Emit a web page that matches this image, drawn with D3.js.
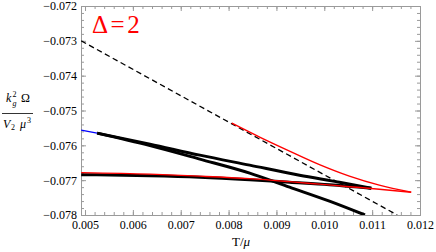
<!DOCTYPE html>
<html><head><meta charset="utf-8">
<script src="https://cdn.jsdelivr.net/npm/d3@7"></script>
</head><body style="margin:0">
<svg id="c" width="436" height="252" font-family="Liberation Serif" style="display:block;background:#fff"></svg>
<script>
// ---- data ----
const xTicks = [0.005,0.006,0.007,0.008,0.009,0.010,0.011,0.012];
const yTicks = [-0.072,-0.073,-0.074,-0.075,-0.076,-0.077,-0.078];
const dashedT = [0.00492, 0.011524];
const dashedW = [-0.0730, -0.0780];
const redUpperT = [0.008066,0.008649,0.009274,0.009899,0.010524,0.011149,0.011816];
const redUpperW = [-0.075362,-0.075764,-0.076167,-0.076555,-0.076885,-0.077144,-0.077345];
const redLowerT = [0.00492,0.006358,0.007399,0.008441,0.009274,0.009899,0.010524,0.011149,0.011816];
const redLowerW = [-0.076784,-0.076828,-0.076885,-0.076957,-0.077043,-0.077115,-0.077187,-0.077259,-0.077345];
const blueT = [0.00492,0.005253];
const blueW = [-0.075563,-0.075649];
const blackAT = [0.00492,0.006358,0.007399,0.008441,0.009274,0.010108,0.010983];
const blackAW = [-0.076842,-0.076871,-0.076914,-0.076986,-0.077057,-0.077129,-0.077230];
const blackBT = [0.005253,0.006358,0.007399,0.008441,0.009483,0.010316,0.010983];
const blackBW = [-0.075649,-0.075966,-0.076282,-0.076569,-0.076856,-0.077057,-0.077230];
const blackCT = [0.005253,0.006358,0.007399,0.008441,0.009274,0.010108,0.010850];
const blackCW = [-0.075649,-0.076009,-0.076397,-0.076799,-0.077201,-0.077603,-0.078000];
const labelParts = ["\u0394","=","2"];

// ---- layout ----
const svg = d3.select("#c");
const L=81, R=420, T=6, B=215;
const x = d3.scaleLinear().domain([0.004916,0.012]).range([L,R]);
const y = d3.scaleLinear().domain([-0.072,-0.078]).range([T,B]);
const frameColor = "#9a9a9a";

svg.append("defs").append("clipPath").attr("id","clip")
  .append("rect").attr("x",L).attr("y",T).attr("width",R-L).attr("height",B-T);

const xMinor = d3.range(0.0050,0.01201,0.0002);
const yMinor = d3.range(-0.0720,-0.07801,-0.0002);

function styleAxis(g){
  g.attr("font-family","Liberation Serif").attr("font-size",12);
  g.select(".domain").attr("stroke",frameColor).attr("stroke-width",1);
  g.selectAll(".tick line").attr("stroke",frameColor);
  g.selectAll(".tick text").attr("fill","#000");
}
// minor ticks
svg.append("g").attr("transform",`translate(0,${B})`).call(d3.axisBottom(x).tickValues(xMinor).tickSize(-3).tickFormat("")).call(styleAxis);
svg.append("g").attr("transform",`translate(0,${T})`).call(d3.axisTop(x).tickValues(xMinor).tickSize(-3).tickFormat("")).call(styleAxis);
svg.append("g").attr("transform",`translate(${L},0)`).call(d3.axisLeft(y).tickValues(yMinor).tickSize(-3).tickFormat("")).call(styleAxis);
svg.append("g").attr("transform",`translate(${R},0)`).call(d3.axisRight(y).tickValues(yMinor).tickSize(-3).tickFormat("")).call(styleAxis);
// major ticks
svg.append("g").attr("transform",`translate(0,${B})`).call(d3.axisBottom(x).tickValues(xTicks).tickSize(-5).tickPadding(5).tickFormat(d3.format(".3f"))).call(styleAxis);
svg.append("g").attr("transform",`translate(0,${T})`).call(d3.axisTop(x).tickValues(xTicks).tickSize(-5).tickFormat("")).call(styleAxis);
svg.append("g").attr("transform",`translate(${L},0)`).call(d3.axisLeft(y).tickValues(yTicks).tickSize(-5).tickPadding(4).tickFormat(d3.format(".3f"))).call(styleAxis);
svg.append("g").attr("transform",`translate(${R},0)`).call(d3.axisRight(y).tickValues(yTicks).tickSize(-5).tickFormat("")).call(styleAxis);

// curves
const plot = svg.append("g").attr("clip-path","url(#clip)");
const line = d3.line().x(d=>x(d[0])).y(d=>y(d[1])).curve(d3.curveMonotoneX);
const zip = (a,b)=>a.map((v,i)=>[v,b[i]]);
function draw(tt,ww,color,width,dash){
  const p = plot.append("path").datum(zip(tt,ww)).attr("d",line)
    .attr("fill","none").attr("stroke",color).attr("stroke-width",width)
    .attr("stroke-linecap","butt").attr("stroke-linejoin","round");
  if(dash) p.attr("stroke-dasharray",dash);
}
draw(dashedT,dashedW,"#000",1.3,"5.5,3.5");
draw(blackAT,blackAW,"#000",3);
draw(blackBT,blackBW,"#000",3);
draw(blackCT,blackCW,"#000",3);
draw(redLowerT,redLowerW,"#ff0000",1.4);
draw(redUpperT,redUpperW,"#ff0000",1.4);
draw(blueT,blueW,"#0000ff",1.4);

// Delta label
const dl = svg.append("text").attr("x",92).attr("y",33).attr("fill","#ff0000").attr("font-size",25);
labelParts.forEach((s,i)=>dl.append("tspan").attr("dx",i?2.5:0).text(s));

// axis titles
const yl = svg.append("g");
yl.append("text").attr("x",6).attr("y",102).attr("font-size",12).attr("font-style","italic").text("k");
yl.append("text").attr("x",12.5).attr("y",97).attr("font-size",8).text("2");
yl.append("text").attr("x",12.5).attr("y",106).attr("font-size",8).attr("font-style","italic").text("g");
yl.append("text").attr("x",21).attr("y",102).attr("font-size",12).text("\u03A9");
yl.append("line").attr("x1",2).attr("x2",33).attr("y1",113.5).attr("y2",113.5).attr("stroke","#000").attr("stroke-width",0.8);
yl.append("text").attr("x",3).attr("y",128).attr("font-size",12).attr("font-style","italic").text("V");
yl.append("text").attr("x",11).attr("y",130).attr("font-size",8).text("2");
yl.append("text").attr("x",20).attr("y",128).attr("font-size",12).attr("font-style","italic").text("\u03BC");
yl.append("text").attr("x",27).attr("y",123).attr("font-size",8).text("3");

const xl = svg.append("text").attr("x",241).attr("y",246).attr("font-size",13).attr("text-anchor","middle");
xl.append("tspan").text("T/");
xl.append("tspan").attr("font-style","italic").text("\u03BC");
</script>
</body></html>
